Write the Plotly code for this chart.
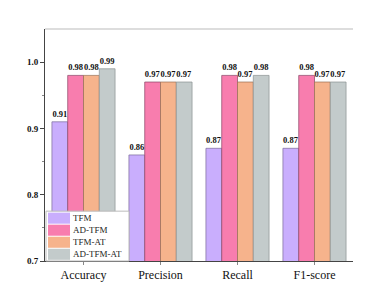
import plotly.graph_objects as go

categories = ["Accuracy", "Precision", "Recall", "F1-score"]
series_names = ["TFM", "AD-TFM", "TFM-AT", "AD-TFM-AT"]
tfm = [0.91, 0.86, 0.87, 0.87]
ad_tfm = [0.98, 0.97, 0.98, 0.98]
tfm_at = [0.98, 0.97, 0.97, 0.97]
ad_tfm_at = [0.99, 0.97, 0.98, 0.97]
values = [tfm, ad_tfm, tfm_at, ad_tfm_at]
colors = ["#C9AEFD", "#F87DAE", "#F6B38C", "#C3CBCB"]
edges = ["#7A6A99", "#8A4566", "#9A7055", "#8A9090"]
y_ticks = [0.7, 0.8, 0.9, 1.0]

font = "Liberation Serif"
fig = go.Figure()
for name, vals, c, e in zip(series_names, values, colors, edges):
    fig.add_trace(go.Bar(
        x=categories, y=vals, name=name,
        marker=dict(color=c, line=dict(color=e, width=0.7)),
        text=[f"{v:.2f}" for v in vals], textposition="outside",
        textfont=dict(family=font, size=8.5, color="#111"),
        texttemplate="<b>%{text}</b>", cliponaxis=False,
    ))

W, H = 374, 286
ml, mr, mt, mb = 37, 29, 21, 30
pw, ph = W - ml - mr, H - mt - mb

fig.update_layout(
    width=W, height=H, barmode="group", bargap=0.18, bargroupgap=0,
    margin=dict(l=ml, r=mr, t=mt, b=mb),
    plot_bgcolor="white", paper_bgcolor="white",
    font=dict(family=font, color="#111"),
    showlegend=False,
)
fig.update_xaxes(range=[-0.5, 3.5], showline=True, linecolor="#444", linewidth=1,
                 ticks="outside", ticklen=3, tickcolor="#888",
                 tickfont=dict(family=font, size=12), showgrid=False)
fig.update_yaxes(range=[0.7, 1.05], tickvals=y_ticks,
                 ticktext=[f"<b>{v:.1f}</b>" for v in y_ticks],
                 showline=True, linecolor="#444", linewidth=1,
                 ticks="outside", ticklen=4, tickcolor="#444",
                 tickfont=dict(family=font, size=9), showgrid=False,
                 minor=dict(tickvals=[0.75, 0.85, 0.95], ticks="outside", ticklen=2, tickcolor="#888"))
fig.add_shape(type="line", xref="paper", yref="paper", x0=0, x1=1, y0=1, y1=1,
              line=dict(color="#BBBBBB", width=1))

# custom compact legend (bottom-left, inside plot)
px = lambda x: (x - ml) / pw
py = lambda y: (H - mb - y) / ph
fig.add_shape(type="rect", xref="paper", yref="paper",
              x0=px(38), x1=px(121), y0=py(256), y1=py(205.5),
              fillcolor="white", line=dict(color="#BBBBBB", width=1), layer="above")
row_h = 12.2
for i, (name, c) in enumerate(zip(series_names, colors)):
    top = 207 + i * row_h
    fig.add_shape(type="rect", xref="paper", yref="paper",
                  x0=px(40), x1=px(62), y0=py(top + row_h - 1), y1=py(top),
                  fillcolor=c, line=dict(width=0), layer="above")
    fig.add_annotation(xref="paper", yref="paper", x=px(64), y=py(top + (row_h - 1) / 2),
                       text=name, showarrow=False, xanchor="left", yanchor="middle",
                       borderpad=0, font=dict(family=font, size=9, color="#222"))
fig.write_html("out.html")
